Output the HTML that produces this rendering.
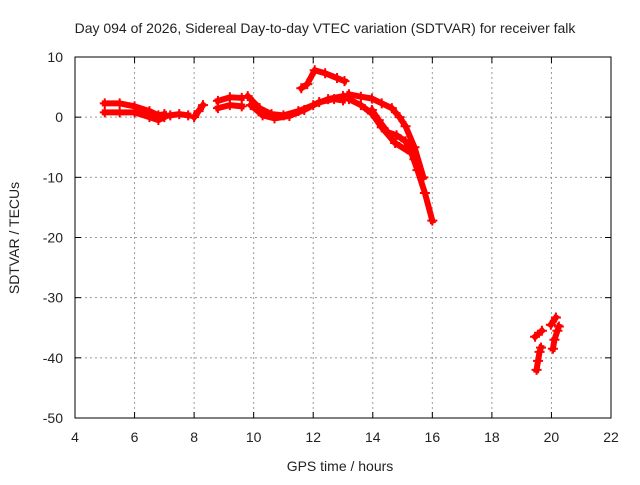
<!DOCTYPE html>
<html><head><meta charset="utf-8"><style>
body{margin:0;background:#fff}
svg text{font-family:"Liberation Sans",sans-serif;font-size:14px;fill:#222}
</style></head><body>
<svg id="c" width="640" height="480">
<rect x="0" y="0" width="640" height="480" fill="#fff"/>
<text x="325" y="33" text-anchor="middle">Day 094 of 2026, Sidereal Day-to-day VTEC variation (SDTVAR) for receiver falk</text>
<text x="340" y="471" text-anchor="middle">GPS time / hours</text>
<text transform="translate(19,238) rotate(-90)" text-anchor="middle">SDTVAR / TECUs</text>
<g id="grid"></g><g id="ticks"></g><g id="data"></g>
<rect x="75" y="57" width="536" height="361" fill="none" stroke="#000" stroke-width="1"/>
</svg>
<script>
const xTicks=[4,6,8,10,12,14,16,18,20,22];
const yTicks=[10,0,-10,-20,-30,-40,-50];
const trackNames=['a','b','c','d','e','f','g','h','i','j','k','l','m','n','o','p'];
const trackA=[[5.0,2.3],[5.5,2.3],[6.0,1.8],[6.5,1.0],[6.8,0.3],[7.0,0.5]];
const trackB=[[5.0,0.8],[5.5,0.8],[6.0,0.8],[6.5,0.0],[6.8,-0.5],[7.0,0.0]];
const trackC=[[7.2,0.3],[7.5,0.5],[7.8,0.3]];
const trackD=[[8.0,0.0],[8.15,1.0],[8.3,2.0]];
const trackE=[[8.8,2.7],[9.2,3.3],[9.6,3.2]];
const trackF=[[8.8,1.5],[9.2,2.0],[9.6,1.8]];
const trackG=[[9.8,3.5],[10.2,1.5],[10.6,0.5],[11.0,0.3],[11.5,1.0],[12.0,2.0],[12.5,3.0],[13.0,3.5]];
const trackH=[[9.9,2.0],[10.3,0.3],[10.7,-0.2],[11.2,0.2],[11.7,1.2],[12.2,2.5],[12.7,3.0],[13.0,2.8]];
const trackI=[[11.6,4.8],[11.8,5.5],[12.05,7.8],[12.4,7.3],[12.8,6.5],[13.05,6.0]];
const trackJ=[[13.2,3.8],[13.6,3.4],[13.97,3.1],[14.3,2.3],[14.64,1.5],[14.9,0.0],[15.1,-1.5],[15.4,-5.0],[15.7,-10.0]];
const trackK=[[13.2,3.0],[13.6,2.0],[13.97,0.6],[14.3,-1.7],[14.75,-4.3],[15.3,-6.0],[15.5,-8.8],[15.75,-12.6],[16.0,-17.2]];
const trackL=[[13.97,1.2],[14.2,-0.5],[14.5,-2.5],[14.8,-3.0],[15.1,-4.0],[15.4,-7.0]];
const trackM=[[19.98,-34.5],[20.15,-33.3]];
const trackN=[[19.45,-36.5],[19.68,-35.5]];
const trackO=[[20.05,-38.5],[20.1,-37.0],[20.2,-35.5],[20.25,-34.8]];
const trackP=[[19.5,-42.0],[19.55,-40.5],[19.6,-39.0],[19.65,-38.3]];
const tracks=[trackA,trackB,trackC,trackD,trackE,trackF,trackG,trackH,trackI,trackJ,trackK,trackL,trackM,trackN,trackO,trackP];
const NS='http://www.w3.org/2000/svg';
const X=h=>75+(h-4)*536/18;
const Y=v=>57+(10-v)*361/60;
function mk(t,a){const e=document.createElementNS(NS,t);for(const k in a)e.setAttribute(k,a[k]);return e;}
const grid=document.getElementById('grid'),ticks=document.getElementById('ticks'),data=document.getElementById('data');
xTicks.forEach(t=>{
 if(t>4&&t<22){const g=mk('line',{x1:X(t),x2:X(t),y1:57,y2:418,stroke:'#999','stroke-dasharray':'2,3'});
 
 
 grid.appendChild(g);}
 ticks.appendChild(mk('line',{x1:X(t),x2:X(t),y1:418,y2:412,stroke:'#000'}));
 ticks.appendChild(mk('line',{x1:X(t),x2:X(t),y1:57,y2:63,stroke:'#000'}));
 const l=mk('text',{x:X(t),y:442,'text-anchor':'middle'});l.textContent=t;
 
 
 ticks.appendChild(l);
});
yTicks.forEach(t=>{
 if(t<10&&t>-50){const g=mk('line',{x1:75,x2:611,y1:Y(t),y2:Y(t),stroke:'#999','stroke-dasharray':'2,3'});
 
 
 grid.appendChild(g);}
 ticks.appendChild(mk('line',{x1:75,x2:81,y1:Y(t),y2:Y(t),stroke:'#000'}));
 ticks.appendChild(mk('line',{x1:611,x2:605,y1:Y(t),y2:Y(t),stroke:'#000'}));
 const l=mk('text',{x:63,y:Y(t)+5,'text-anchor':'end'});l.textContent=t;
 
 
 ticks.appendChild(l);
});
tracks.forEach((tr,i)=>{
 const p=mk('polyline',{points:tr.map(d=>X(d[0])+','+Y(d[1])).join(' '),fill:'none',stroke:'#f00','stroke-width':6,'stroke-linejoin':'round','stroke-linecap':'square'});
 
 
 data.appendChild(p);
 tr.forEach(d=>{
  const m=mk('path',{d:`M${X(d[0])-5},${Y(d[1])}h10M${X(d[0])},${Y(d[1])-5}v10`,stroke:'#f00','stroke-width':2});
  
  
  data.appendChild(m);
 });
});
</script>
</body></html>
